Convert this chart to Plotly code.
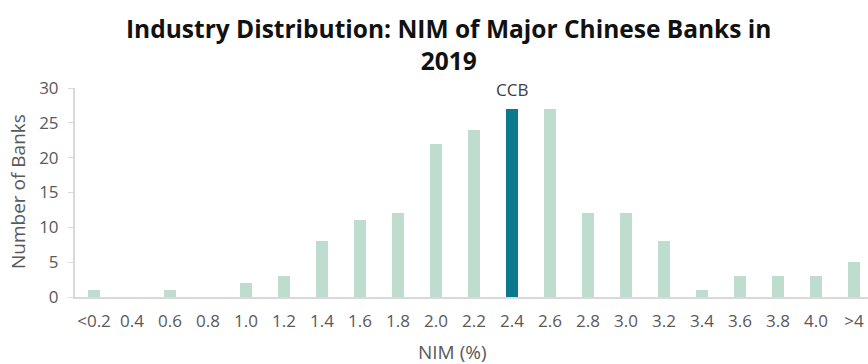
import plotly.graph_objects as go

categories = ["<0.2", "0.4", "0.6", "0.8", "1.0", "1.2", "1.4", "1.6", "1.8", "2.0",
              "2.2", "2.4", "2.6", "2.8", "3.0", "3.2", "3.4", "3.6", "3.8", "4.0", ">4"]
counts = [1, 0, 1, 0, 2, 3, 8, 11, 12, 22, 24, 27, 27, 12, 12, 8, 1, 3, 3, 3, 5]
highlight = "2.4"
highlight_label = "CCB"
y_ticks = [0, 5, 10, 15, 20, 25, 30]

light = "#BFDDCE"
dark = "#0B788C"
colors = [dark if c == highlight else light for c in categories]

W, H = 868, 364
L, R, T, B = 75, 0, 88, 67
pw, ph = W - L - R, H - T - B


def px(x):
    return (x - L) / pw


def py(y):
    return (H - B - y) / ph


font_fam = "Open Sans"
grey = "#595959"

fig = go.Figure()
fig.add_trace(go.Bar(x=categories, y=counts, marker=dict(color=colors, line=dict(width=0)),
                     width=0.32, showlegend=False))

fig.update_layout(
    width=W, height=H,
    margin=dict(l=L, r=R, t=T, b=B, pad=0),
    paper_bgcolor="white", plot_bgcolor="white",
    font=dict(family=font_fam, color=grey, size=16),
    xaxis=dict(type="category", range=[-0.5, 20.37], showline=True, linecolor="#D9D9D9",
               linewidth=2, ticks="", tickfont=dict(family=font_fam, size=17, color=grey),
               showgrid=False, ticklabelstandoff=8, zeroline=False),
    yaxis=dict(range=[0, 30], tickvals=y_ticks, showline=True, linecolor="#D9D9D9",
               linewidth=2, ticks="outside", ticklen=5, tickcolor="#D9D9D9",
               ticklabelstandoff=6,
               showgrid=False, zeroline=False, tickfont=dict(family=font_fam, size=17, color=grey)),
    bargap=0,
)

hi_idx = categories.index(highlight)
fig.add_annotation(text=highlight_label, x=hi_idx, y=counts[hi_idx],
                   xref="x", yref="y", yanchor="bottom", yshift=6, showarrow=False,
                   font=dict(family=font_fam, size=17, color="#404040"))
fig.add_annotation(text="<b>Industry Distribution: NIM of Major Chinese Banks in<br>2019</b>",
                   x=px(448), xref="paper", xanchor="center",
                   y=py(10), yref="paper", yanchor="top",
                   showarrow=False, align="center",
                   font=dict(family=font_fam, size=24.5, color="#111111"))
fig.add_annotation(text="Number of Banks", textangle=-90, x=px(18), xref="paper", xanchor="center",
                   y=py(192), yref="paper", yanchor="middle",
                   showarrow=False, font=dict(family=font_fam, size=19, color=grey))
fig.add_annotation(text="NIM (%)", x=px(452), xref="paper", xanchor="center",
                   y=py(352), yref="paper", yanchor="middle",
                   showarrow=False, font=dict(family=font_fam, size=19, color=grey))
fig.write_html("out.html")
